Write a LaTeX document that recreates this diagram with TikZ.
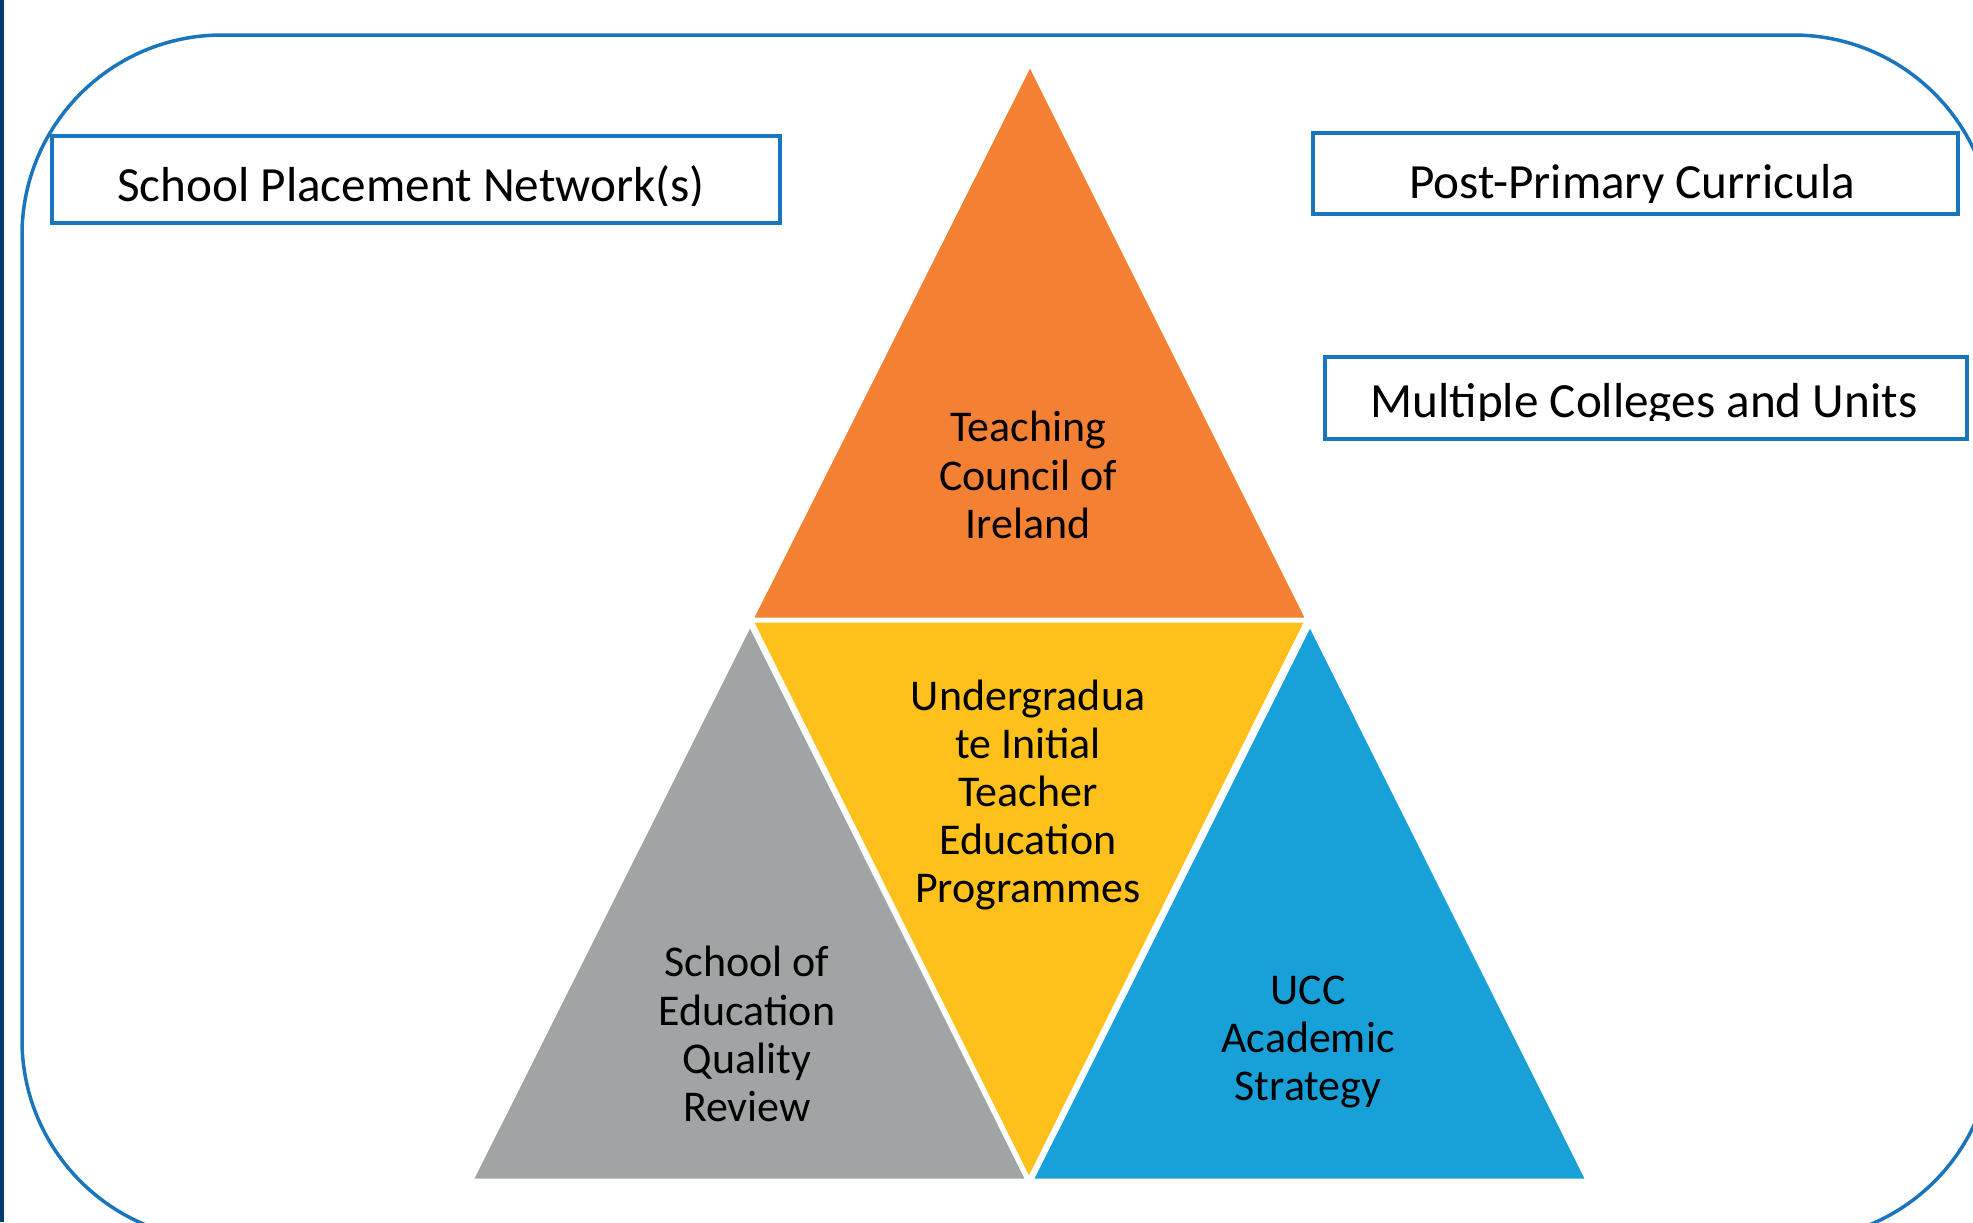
\documentclass[tikz,border=0pt]{standalone}
\usepackage{fontspec}
\setmainfont{Carlito}
\usepackage{tikz}
\usetikzlibrary{calc}

\definecolor{frameblue}{HTML}{1B75BC}
\definecolor{navy}{HTML}{003B6F}
\definecolor{tcorange}{HTML}{F38033}
\definecolor{itegold}{HTML}{FEC01A}
\definecolor{qrgray}{HTML}{A1A4A4}
\definecolor{uccblue}{HTML}{18A0D8}

\tikzset{
  frame/.style={draw=frameblue, line width=0.35mm, rounded corners=2cm},
  labelbox/.style={draw=frameblue, line width=0.33mm, inner sep=0pt},
  boxtext/.style={inner sep=0pt, font=\fontsize{14}{16}\selectfont},
  tri/.style={draw=white, line width=0.3mm, line join=miter},
  trilabel/.style={align=center, inner sep=0pt,
                   font=\fontsize{12.5}{13.7}\selectfont},
}

\begin{document}
\begin{tikzpicture}[x=0.1mm, y=-0.1mm]
    \useasboundingbox (0,0) rectangle (1973,1222);
    \clip (0,0) rectangle (1973,1222);

    % outer frame
    \fill[navy] (0,0) rectangle (4,1222);
    \draw[frame] (22,35) rectangle (1993,1240);

    % triangles
    \fill[tcorange, tri] (1030,65) -- (1307,619) -- (752,619) -- cycle;
    \fill[itegold, tri] (752,621) -- (1306,621) -- (1029,1179) -- cycle;
    \fill[qrgray, tri] (750,625) -- (1027,1180) -- (472,1180) -- cycle;
    \fill[uccblue, tri] (1310,625) -- (1587,1180) -- (1032,1180) -- cycle;

    \node[trilabel] (tci) at (1028,475) {Teaching\\Council of\\Ireland};
    \node[trilabel] (ite) at (1028,795)
         {Undergradua\\te Initial\\Teacher\\Education\\Programmes};
    \node[trilabel] (soe) at (747,1034) {School of\\Education\\Quality\\Review};
    \node[trilabel] (ucc) at (1308,1042) {UCC\\Academic\\Strategy};

    % side boxes
    \node[labelbox, minimum width=7.28cm, minimum height=0.87cm]
         (spn) at (416,179.5) {};
    \node[labelbox, minimum width=6.45cm, minimum height=0.81cm]
         (ppc) at (1635.5,173.5) {};
    \node[labelbox, minimum width=6.42cm, minimum height=0.82cm]
         (mcu) at (1646,398) {};

    \begin{scope}
      \clip (56,140) rectangle (776,205);
      \node[boxtext, anchor=base] (spntext) at (411,201) {School Placement Network(s)};
    \end{scope}
    \begin{scope}
      \clip (1317,137) rectangle (1954,202);
      \node[boxtext, anchor=base] (ppctext) at (1632,198) {Post-Primary Curricula};
    \end{scope}
    \begin{scope}
      \clip (1329,361) rectangle (1963,420);
      \node[boxtext, anchor=base] (mcutext) at (1644,417) {Multiple Colleges and Units};
    \end{scope}
\end{tikzpicture}
\end{document}
